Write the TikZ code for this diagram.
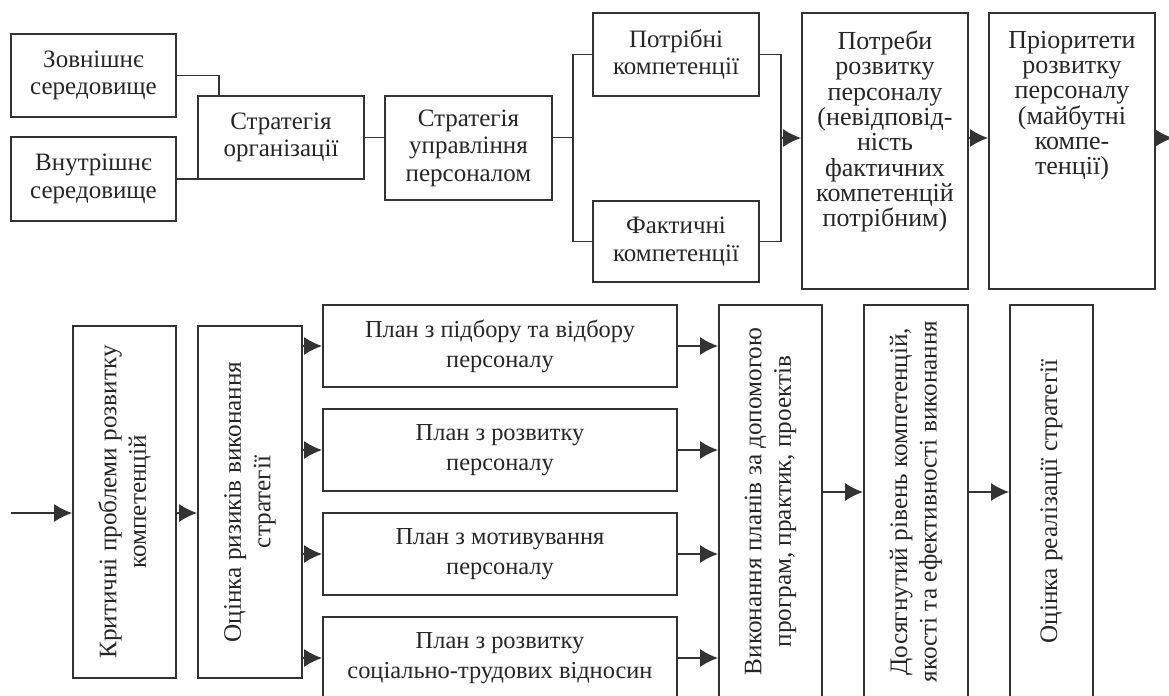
\documentclass[tikz,border=0pt]{standalone}
\usepackage{fontspec}
\setmainfont{Liberation Serif}
\usepackage{graphicx}
\usetikzlibrary{arrows.meta}
\tikzset{blok/.style={draw,rectangle,inner sep=0pt,align=center,text=black!85,font=\fontsize{12.5}{13.8}\selectfont},
  plan/.style={blok,minimum width=177pt,minimum height=41pt,font=\fontsize{12.2}{15}\selectfont},
  >={Latex[length=9pt,width=9pt]}}
\def\cn#1#2{\draw[->] (#1) -- (#2);}
\newcommand{\blok}[4][]{\node[blok,#1] (#2) at (#3) {#4};}
\newcommand{\svis}[2]{\rotatebox{90}{\parbox{#1}{\centering\fontsize{12.6}{14.8}\selectfont #2}}}
\newcommand{\vysok}[1]{\parbox[c][138pt][t]{82pt}{\centering\fontsize{13}{12.65}\selectfont\vspace*{9pt}#1}}

\begin{document}
\begin{tikzpicture}[x=0.5pt,y=-0.5pt,line width=0.9pt,draw=black!80]
    \useasboundingbox (0,0) rectangle (1169,696);
    \clip (0,0) rectangle (1169,696);

    % верхній ряд
    \blok[minimum width=82.5pt,minimum height=41.5pt]{zovn}{93.5,75.5}{Зовнішнє\\середовище}
    \blok[minimum width=82.5pt,minimum height=42pt]{vnutr}{93.5,179}{Внутрішнє\\середовище}
    \blok[minimum width=83pt,minimum height=41.5pt]{strorg}{281,137.5}{Стратегія\\організації}
    \blok[minimum width=83.5pt,minimum height=52pt]{strup}{468.5,148}{Стратегія\\управління\\персоналом}
    \blok[minimum width=83pt,minimum height=41.5pt]{potr}{676,54.5}{Потрібні\\компетенції}
    \blok[minimum width=83pt,minimum height=40.5pt]{fakt}{676,241.5}{Фактичні\\компетенції}
    \blok[minimum width=83pt]{potreby}{885,151}{\vysok{Потреби\\розвитку\\персоналу\\(невідповід-\\ність\\фактичних\\компетенцій\\потрібним)}}
    \blok[minimum width=83pt]{priorit}{1072,151}{\vysok{Пріоритети\\розвитку\\персоналу\\(майбутні\\компе-\\тенції)}}

    \coordinate (jz) at (219,137);
    \draw (zovn.east) -| (jz |- strorg.north);
    \draw (vnutr.east) -| (jz |- strorg.south);
    \draw (strorg.east) -- (strorg.east -| strup.west);
    \coordinate (jl) at (573,137.5);
    \draw (strup.east |- jl) -- (jl);
    \draw (potr.west) -| (jl) |- (fakt.west);
    \coordinate (jr) at (781,138);
    \draw (potr.east) -| (jr) |- (fakt.east);
    \cn{jr}{jr -| potreby.west}
    \cn{potreby.east |- jr}{priorit.west |- jr}
    \coordinate (vyhid) at (1173,138);
    \cn{priorit.east |- jr}{vyhid}

    % нижній ряд
    \blok[minimum width=51.5pt,minimum height=176pt]{krit}{124.5,502}{\svis{170pt}{Критичні проблеми розвитку\\компетенцій}}
    \blok[minimum width=52pt,minimum height=176pt]{ryzyk}{250,502}{\svis{170pt}{Оцінка ризиків виконання\\стратегії}}
    \node[plan] (plan1) at (500,346) {План з підбору та відбору\\персоналу};
    \node[plan] (plan2) at (500,450) {План з розвитку\\персоналу};
    \node[plan] (plan3) at (500,554) {План з мотивування\\персоналу};
    \node[plan] (plan4) at (500,658) {План з розвитку\\соціально-трудових відносин};
    \blok[minimum width=51.5pt,minimum height=196.5pt]{vykon}{770.5,501.5}{\svis{190pt}{Виконання планів за допомогою\\програм, практик, проектів}}
    \blok[minimum width=52pt,minimum height=196.5pt]{dosyag}{916,501.5}{\svis{190pt}{Досягнутий рівень компетенцій,\\якості та ефективності виконання}}
    \blok[minimum width=41.5pt,minimum height=196.5pt]{otsinka}{1051.5,501.5}{\svis{190pt}{Оцінка реалізації стратегії}}

    \coordinate (vhid) at (11,513);
    \cn{vhid}{vhid -| krit.west}
    \cn{krit.east |- vhid}{ryzyk.west |- vhid}
    \foreach \i in {1,...,4}{
      \cn{ryzyk.east |- plan\i}{plan\i.west}
      \cn{plan\i.east}{vykon.west |- plan\i}
    }
    \coordinate (rivn) at (0,492);
    \cn{vykon.east |- rivn}{dosyag.west |- rivn}
    \cn{dosyag.east |- rivn}{otsinka.west |- rivn}
\end{tikzpicture}
\end{document}
